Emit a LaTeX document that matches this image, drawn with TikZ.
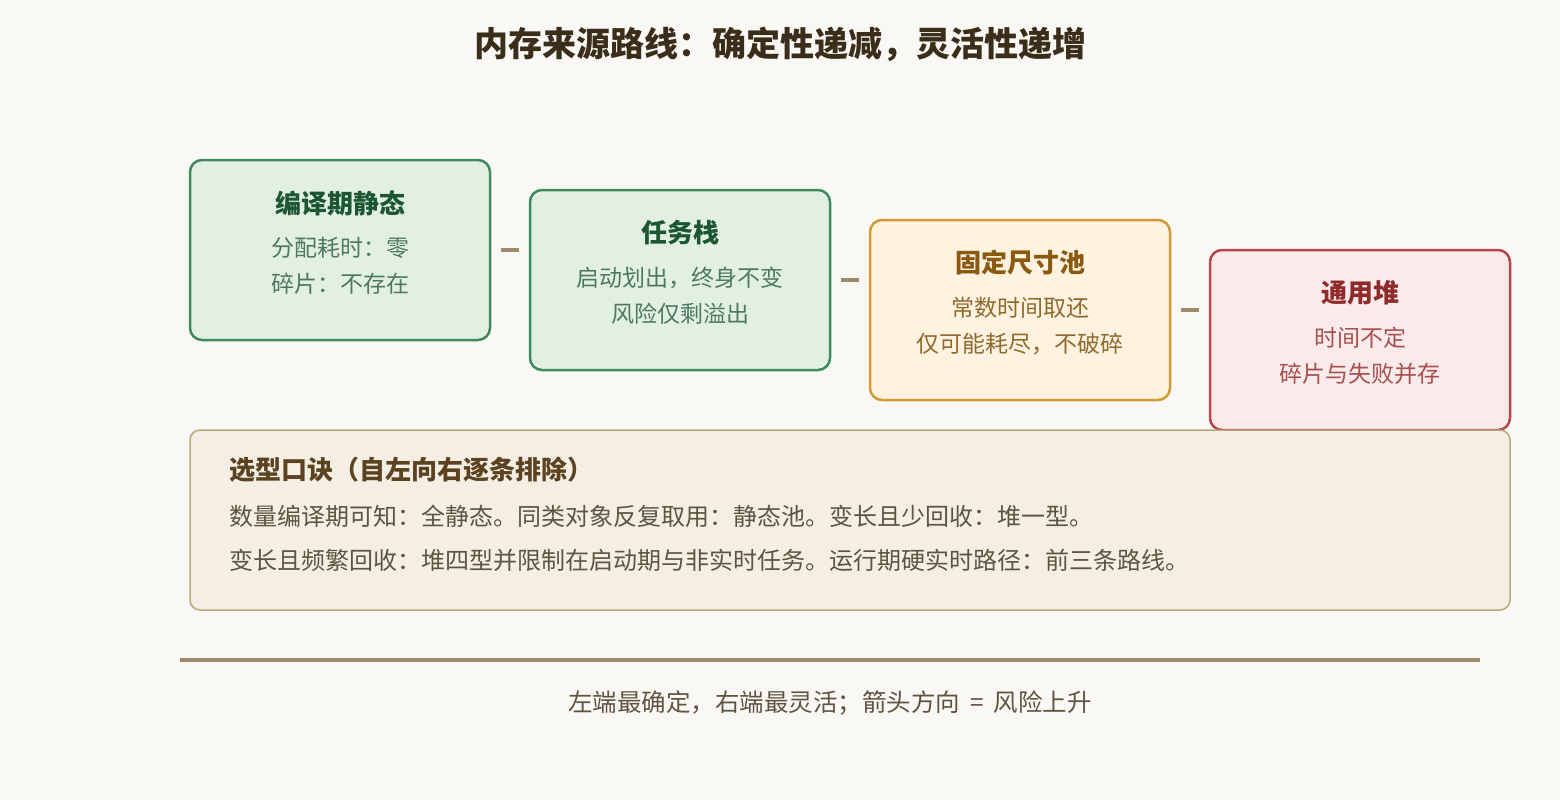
\documentclass[tikz,border=0pt]{standalone}
\usepackage{fontspec}
\setmainfont{Noto Sans CJK SC}
\definecolor{bgc}{HTML}{FAF8F4}
\definecolor{gfill}{HTML}{E2F0E3}
\definecolor{gdraw}{HTML}{3F8A5F}
\definecolor{gtitle}{HTML}{1D5632}
\definecolor{gbody}{HTML}{4E7A5C}
\definecolor{yfill}{HTML}{FFF3E0}
\definecolor{ydraw}{HTML}{D19B37}
\definecolor{ytitle}{HTML}{8A5A12}
\definecolor{ybody}{HTML}{8E6A30}
\definecolor{rfill}{HTML}{FBEAEA}
\definecolor{rdraw}{HTML}{B4474B}
\definecolor{rtitle}{HTML}{8F2B2B}
\definecolor{rbody}{HTML}{A65050}
\definecolor{bfill}{HTML}{F4EEE3}
\definecolor{bdraw}{HTML}{B9A77F}
\definecolor{btitle}{HTML}{5B4322}
\definecolor{bbody}{HTML}{5F5342}
\definecolor{conn}{HTML}{9E8B6C}
\definecolor{maintitle}{HTML}{3A2E1A}
\tikzset{
  card/.style={draw, line width=2.5pt, rounded corners=12pt, minimum width=300pt, minimum height=180pt, inner sep=0pt},
  cardtitle/.style={font=\fontsize{26}{30}\selectfont\bfseries, inner sep=0pt},
  cardbody/.style={font=\fontsize{23}{27}\selectfont, inner sep=0pt},
  linkline/.style={draw=conn, line width=3.5pt, shorten <=10pt, shorten >=10pt},
}
\begin{document}
\begin{tikzpicture}[x=1pt,y=-1pt]
\fill[bgc] (0,0) rectangle (1560,800);
\useasboundingbox (0,0) rectangle (1560,800);

\node[font=\fontsize{34}{40}\selectfont\bfseries, text=maintitle, inner sep=0pt] (title) at (780,44) {内存来源路线：确定性递减，灵活性递增};

% cards
\node[card, fill=gfill, draw=gdraw] (c1) at (340,250) {};
\node[cardtitle, text=gtitle] (c1t) at (340,203) {编译期静态};
\node[cardbody, text=gbody] (c1a) at (340,248) {分配耗时：零};
\node[cardbody, text=gbody] (c1b) at (340,284) {碎片：不存在};

\node[card, fill=gfill, draw=gdraw] (c2) at (680,280) {};
\node[cardtitle, text=gtitle] (c2t) at (680,233) {任务栈};
\node[cardbody, text=gbody] (c2a) at (680,278) {启动划出，终身不变};
\node[cardbody, text=gbody] (c2b) at (680,314) {风险仅剩溢出};

\node[card, fill=yfill, draw=ydraw] (c3) at (1020,310) {};
\node[cardtitle, text=ytitle] (c3t) at (1020,263) {固定尺寸池};
\node[cardbody, text=ybody] (c3a) at (1020,308) {常数时间取还};
\node[cardbody, text=ybody] (c3b) at (1020,344) {仅可能耗尽，不破碎};

\node[card, fill=rfill, draw=rdraw] (c4) at (1360,340) {};
\node[cardtitle, text=rtitle] (c4t) at (1360,293) {通用堆};
\node[cardbody, text=rbody] (c4a) at (1360,338) {时间不定};
\node[cardbody, text=rbody] (c4b) at (1360,374) {碎片与失败并存};

% connectors
\draw[linkline] (c1.east |- 0,250) -- (c2.west |- 0,250);
\draw[linkline] (c2.east |- 0,280) -- (c3.west |- 0,280);
\draw[linkline] (c3.east |- 0,310) -- (c4.west |- 0,310);

% bottom box
\node[draw=bdraw, fill=bfill, line width=1.5pt, rounded corners=10pt, minimum width=1320pt, minimum height=180pt, inner sep=0pt] (tips) at (850,520) {};
\node[font=\fontsize{26}{30}\selectfont\bfseries, text=btitle, anchor=west, inner sep=0pt] (tipst) at (229,470) {选型口诀（自左向右逐条排除）};
\node[font=\fontsize{24}{28}\selectfont, text=bbody, anchor=west, inner sep=0pt] (tipsa) at (229,516) {数量编译期可知：全静态。同类对象反复取用：静态池。变长且少回收：堆一型。};
\node[font=\fontsize{24}{28}\selectfont, text=bbody, anchor=west, inner sep=0pt] (tipsb) at (229,560) {变长且频繁回收：堆四型并限制在启动期与非实时任务。运行期硬实时路径：前三条路线。};

% rule and footer
\coordinate (r1) at (180,660);
\coordinate (r2) at (1480,660);
\draw[conn, line width=4pt] (r1) -- (r2);
\node[font=\fontsize{24.5}{28}\selectfont, text=bbody, inner sep=0pt] (foot) at (830,703) {左端最确定，右端最灵活；箭头方向\hspace{0.4em}=\hspace{0.4em}风险上升};
\end{tikzpicture}
\end{document}
